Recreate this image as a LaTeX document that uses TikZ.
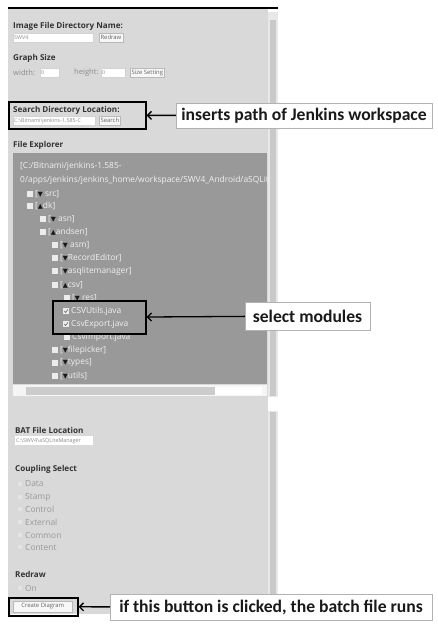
\documentclass[tikz,border=0pt]{standalone}
\usepackage{fontspec}
\setmainfont{Open Sans}
\newfontfamily\callfont{Carlito}
\newfontfamily\symfont{DejaVu Sans}
\usetikzlibrary{arrows.meta}
\newcommand\tdown{{\symfont\color{black!90}\fontsize{6.5}{7}\selectfont\char"25BC}}
\newcommand\tup{{\symfont\color{black!90}\fontsize{6.5}{7}\selectfont\char"25B2}}

\begin{document}
\begin{tikzpicture}[x=1pt,y=-1pt,
	heading/.style={anchor=west,inner sep=0pt,text=black!80,font=\fontsize{8.1}{9}\selectfont\bfseries},
	entry/.style={anchor=west,inner sep=0pt,text=black!45,font=\fontsize{7.6}{8}\selectfont},
	choice/.style={anchor=west,inner sep=0pt,text=black!40,font=\fontsize{8.4}{9}\selectfont},
	treeitem/.style={anchor=west,inner sep=0pt,text=white!88!gray,font=\fontsize{8.4}{9}\selectfont},
	textbox/.style={anchor=north west,draw=gray!35,fill=white,inner sep=1pt,text=black!45,font=\fontsize{5.4}{6}\selectfont,minimum height=9pt,text width=#1,align=left},
	button/.style={anchor=north west,draw=gray!55,fill=gray!6,inner sep=1.4pt,text=black!60,font=\fontsize{5.9}{6}\selectfont,minimum height=9pt},
	tick/.style={draw=none,fill=white!85!gray,minimum size=5.5pt,inner sep=0pt},
	radio/.style={circle,draw=none,fill=white!80!gray,minimum size=4.5pt,inner sep=0pt},
	hilite/.style={anchor=north west,draw=black,line width=1.6pt,inner sep=0pt},
	callout/.style={draw=gray!60,fill=white,inner sep=2pt,text=black!90,font=\callfont\bfseries\fontsize{17.6}{20}\selectfont},
	pointer/.style={-{Straight Barb[length=4pt,width=8pt]},line width=1.3pt}]

\useasboundingbox (0,0) rectangle (437,628);
\fill[white] (0,0) rectangle (437,628);

\fill[gray!30] (8,8) rectangle (268,614);
\fill[gray!18] (268,12) rectangle (278,614);
\fill[gray!42] (270,20) rectangle (276,396);
\fill[white] (268,397) rectangle (278,411);
\fill[gray!42] (270,412) rectangle (276,610);
\draw[line width=1.5pt] (8,8) -- (278,8);

\node[heading] (imgdir) at (13,26) {Image File Directory Name:};
\node[textbox=78pt] (dirfield) at (13,33) {SWV4};
\node[button] (redrawbtn) at (99,33) {Redraw};

\node[heading] (graphsize) at (13,58) {Graph Size};
\node[entry] (wlabel) at (13,73) {width:};
\node[textbox=17pt] (wfield) at (40,68) {0};
\node[entry] (hlabel) at (74,73) {height:};
\node[textbox=22pt] (hfield) at (101,68) {0};
\node[button] (sizebtn) at (130,68) {Size Setting};

\node[hilite,minimum width=137pt,minimum height=27pt] (searchbox) at (8,101) {};
\node[heading] (searchhead) at (13,110) {Search Directory Location:};
\node[textbox=80pt] (searchfield) at (13,116) {C:\textbackslash Bitnami\textbackslash jenkins-1.585-C};
\node[button] (searchbtn) at (99,116) {Search};
\node[callout,minimum width=256pt,minimum height=25pt] (inserts) at (304,115.5) {inserts path of Jenkins workspace};
\draw[pointer] (inserts) -- (searchbox);

\node[heading] (explorer) at (13,145) {File Explorer};
\fill[black!40] (13,153) rectangle (267,384);
\begin{scope}
\clip (13,153) rectangle (267,384);
\node[treeitem] (path1) at (20,166) {[C:/Bitnami/jenkins-1.585-};
\node[treeitem] (path2) at (20,180) {0/apps/jenkins/jenkins\_home/workspace/SWV4\_Android/aSQLiteManager/src]};
\end{scope}

\node[tick] (cb1) at (30,194) {};
\node[treeitem] (src) at (35,194) {[\tdown\ src]};
\node[tick] (cb2) at (30,206) {};
\node[treeitem] (dk) at (35,206) {[\tup dk]};
\node[tick] (cb3) at (43,219) {};
\node[treeitem] (asn) at (48,219) {[\tdown\ asn]};
\node[tick] (cb4) at (43,232) {};
\node[treeitem] (andsen) at (48,232) {[\tup andsen]};
\node[tick] (cb5) at (55,245) {};
\node[treeitem] (asm) at (60,245) {[\tdown\ asm]};
\node[tick] (cb6) at (55,258) {};
\node[treeitem] (recedit) at (60,258) {[\tdown RecordEditor]};
\node[tick] (cb7) at (55,271) {};
\node[treeitem] (asqlite) at (60,271) {[\tdown asqlitemanager]};
\node[tick] (cb8) at (55,285) {};
\node[treeitem] (csv) at (60,285) {[\tup csv]};
\node[tick] (cb9) at (67,298) {};
\node[treeitem] (csvsub) at (72,298) {[\tdown\ res]};
\node[tick] (cb10) at (66,311) {};
\node[treeitem] (csvutils) at (71,311) {CSVUtils.java};
\node[tick] (cb11) at (66,324) {};
\node[treeitem] (csvexport) at (71,324) {CsvExport.java};
\node[tick] (cb12) at (67,337) {};
\node[treeitem] (csvimport) at (72,337) {CsvImport.java};
\node[tick] (cb13) at (55,350) {};
\node[treeitem] (filepicker) at (60,350) {[\tdown filepicker]};
\node[tick] (cb14) at (55,363) {};
\node[treeitem] (types) at (60,363) {[\tdown types]};
\node[tick] (cb15) at (55,376) {};
\node[treeitem] (utils) at (60,376) {[\tdown utils]};
\draw[black!60,line width=0.6pt] (64.3,311) -- (65.6,312.5) -- (67.8,309.5);
\draw[black!60,line width=0.6pt] (64.3,324) -- (65.6,325.5) -- (67.8,322.5);

\fill[white!92!gray] (13,385) rectangle (267,396);
\fill[gray!40] (26,386.5) rectangle (215,394.5);
\fill[white] (215,386.5) rectangle (262,394.5);

\node[hilite,minimum width=93pt,minimum height=33pt] (modbox) at (52,300) {};
\node[callout,minimum width=125pt,minimum height=28pt] (select) at (307.5,316) {select modules};
\draw[pointer] (select) -- (modbox);

\node[heading] (batloc) at (15,430) {BAT File Location};
\node[textbox=76pt,draw=none] (batfield) at (15,436) {C:\textbackslash SWV4\textbackslash aSQLiteManager};

\node[heading] (coupling) at (15,469) {Coupling Select};
\node[radio] (r1) at (20,484) {};
\node[choice] (data) at (25,484) {Data};
\node[radio] (r2) at (20,497) {};
\node[choice] (stamp) at (25,497) {Stamp};
\node[radio] (r3) at (20,509) {};
\node[choice] (control) at (25,509) {Control};
\node[radio] (r4) at (20,522) {};
\node[choice] (external) at (25,522) {External};
\node[radio] (r5) at (20,535) {};
\node[choice] (common) at (25,535) {Common};
\node[radio] (r6) at (20,547) {};
\node[choice] (content) at (25,547) {Content};

\node[heading] (redraw) at (15,574) {Redraw};
\node[radio] (r7) at (20,588) {};
\node[choice] (on) at (25,588) {On};

\node[hilite,minimum width=69pt,minimum height=18pt] (createbox) at (8,597) {};
\node[button,minimum width=59pt,minimum height=11pt] (createbtn) at (13,600.5) {Create Diagram};
\node[callout,minimum width=322pt,minimum height=26pt] (clicked) at (271,607) {if this button is clicked, the batch file runs};
\draw[pointer] (clicked) -- (createbox);

\end{tikzpicture}
\end{document}
